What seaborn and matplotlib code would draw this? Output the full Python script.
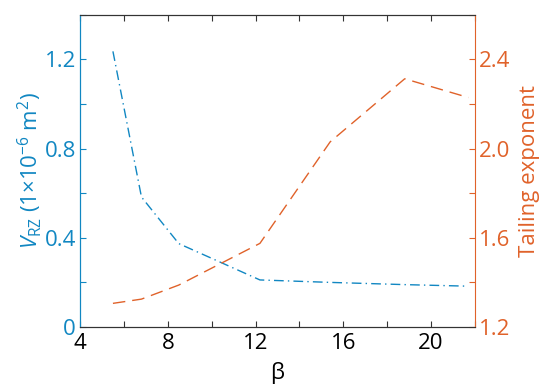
import numpy as np
import pandas as pd
import matplotlib
matplotlib.use("Agg")
import matplotlib.pyplot as plt
import seaborn as sns
from matplotlib.ticker import MultipleLocator, FixedLocator, FuncFormatter

# values
beta = [5.5, 6.8, 8.5, 12.2, 15.4, 18.8, 21.7]
v_rz = [1.236, 0.583, 0.374, 0.211, 0.200, 0.190, 0.183]
tailing = [1.306, 1.325, 1.388, 1.575, 2.03, 2.313, 2.229]

blue = "#1187C2"
orange = "#E0622A"

sns.set_style("white")
plt.rcParams['font.family'] = ['Open Sans', 'DejaVu Sans']
plt.rcParams['mathtext.fontset'] = 'custom'
plt.rcParams['mathtext.rm'] = 'Open Sans'
plt.rcParams['mathtext.it'] = 'Open Sans:italic'

df = pd.DataFrame({'beta': beta, 'v': v_rz, 't': tailing})

fig = plt.figure(figsize=(5.5, 3.89), dpi=100)
ax = fig.add_axes([0.1455, 0.1594, 0.718, 0.8026])
ax2 = ax.twinx()

sns.lineplot(data=df, x='beta', y='v', ax=ax, color=blue, lw=1.0,
             linestyle=(0, (7, 3, 1, 3)))
sns.lineplot(data=df, x='beta', y='t', ax=ax2, color=orange, lw=1.0,
             linestyle=(0, (9, 5)))

ax.set_xlim(4, 22)
ax.set_ylim(0, 1.4)
ax2.set_ylim(1.2, 2.6)

fs = 16

# x ticks
ax.xaxis.set_major_locator(FixedLocator([4, 8, 12, 16, 20]))
ax.xaxis.set_minor_locator(MultipleLocator(2))
ax.tick_params(axis='x', which='both', direction='in', top=True, bottom=True,
               length=4, width=0.8, colors='#333333', labelsize=fs,
               labelcolor='black', pad=4)
ax.tick_params(axis='x', which='minor', labelbottom=False)

# left y ticks
ax.yaxis.set_major_locator(FixedLocator([0, 0.4, 0.8, 1.2]))
ax.yaxis.set_minor_locator(MultipleLocator(0.2))
ax.yaxis.set_major_formatter(FuncFormatter(lambda v, p: '0' if v == 0 else f'{v:.1f}'))
ax.tick_params(axis='y', which='both', direction='in', length=4, width=0.8,
               colors=blue, labelsize=fs, pad=3)

# right y ticks
ax2.yaxis.set_major_locator(FixedLocator([1.2, 1.6, 2.0, 2.4]))
ax2.yaxis.set_minor_locator(MultipleLocator(0.2))
ax2.yaxis.set_major_formatter(FuncFormatter(lambda v, p: f'{v:.1f}'))
ax2.tick_params(axis='y', which='both', direction='in', length=4, width=0.8,
                colors=orange, labelsize=fs, pad=3)

for a in (ax, ax2):
    for s in a.spines.values():
        s.set_linewidth(0.8)
        s.set_color('#333333')
ax.spines['left'].set_color(blue)
ax2.spines['left'].set_color(blue)
ax2.spines['right'].set_color(orange)
ax.spines['right'].set_visible(False)

ax.set_xlabel('β', fontsize=fs, color='black', labelpad=6)
ax.set_ylabel(r'$V_{\rm RZ}$ (1×10$^{-6}$ m$^{2}$)', fontsize=fs, color=blue, labelpad=0)
ax2.set_ylabel('Tailing exponent', fontsize=fs, color=orange, labelpad=6)

fig.savefig('out.png', dpi=100)
